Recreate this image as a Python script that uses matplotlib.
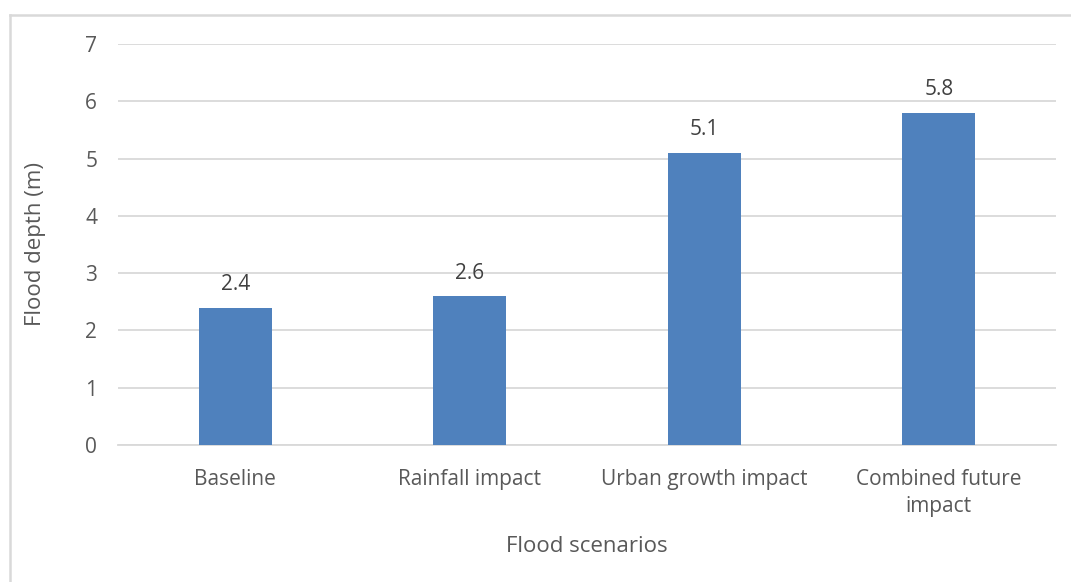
import matplotlib
matplotlib.use("Agg")
import matplotlib.pyplot as plt
from matplotlib.lines import Line2D

categories = ["Baseline", "Rainfall impact", "Urban growth impact", "Combined future\nimpact"]
depths = [2.4, 2.6, 5.1, 5.8]
yticks = [0, 1, 2, 3, 4, 5, 6, 7]

plt.rcParams["font.family"] = ["Open Sans", "DejaVu Sans"]
text_color = "#595959"
grid_color = "#D9D9D9"
bar_color = "#4F81BD"

fig = plt.figure(figsize=(10.71, 5.82), dpi=100)
ax = fig.add_axes([118 / 1071, 1 - 445 / 582, (1056 - 118) / 1071, (445 - 44) / 582])

x = range(len(categories))
bars = ax.bar(x, depths, width=0.31, color=bar_color, zorder=3)
for b, v in zip(bars, depths):
    ax.annotate(f"{v:.1f}", (b.get_x() + b.get_width() / 2, v),
                xytext=(0, 9), textcoords="offset points",
                ha="center", va="bottom", fontsize=15, color="#404040")

ax.set_xlim(-0.5, len(categories) - 0.5)
ax.set_ylim(0, 7)
ax.set_yticks(yticks)
ax.yaxis.grid(True, color=grid_color, linewidth=1.3, zorder=0)
ax.set_xticks(list(x))
ax.set_xticklabels(categories, fontsize=15, color=text_color, linespacing=1.4)
ax.tick_params(axis="y", labelsize=15, labelcolor=text_color, length=0, pad=15)
ax.tick_params(axis="x", length=0, pad=17)
for side in ("top", "right", "left"):
    ax.spines[side].set_visible(False)
ax.spines["bottom"].set_color(grid_color)
ax.spines["bottom"].set_linewidth(1.3)

ax.set_ylabel("Flood depth (m)", fontsize=16, color=text_color, labelpad=28)
ax.set_xlabel("Flood scenarios", fontsize=16, color=text_color, labelpad=14)

# chart frame (top and left edges)
fig.add_artist(Line2D([9.5 / 1071, 9.5 / 1071], [0, 1 - 15 / 582],
                      transform=fig.transFigure, color="#D9D9D9", linewidth=1.8))
fig.add_artist(Line2D([9.5 / 1071, 1], [1 - 15 / 582, 1 - 15 / 582],
                      transform=fig.transFigure, color="#D9D9D9", linewidth=1.8))

fig.savefig("out.png", dpi=100)
